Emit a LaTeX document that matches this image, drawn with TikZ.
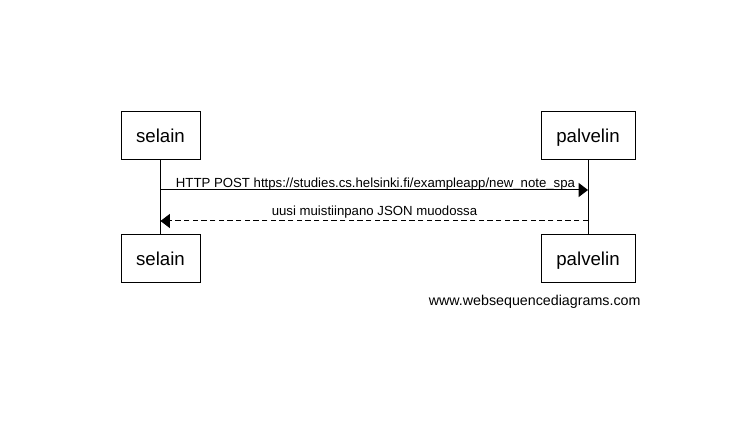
\documentclass[tikz,border=0pt]{standalone}
\usepackage{fontspec}
\setmainfont{Liberation Sans}
\usetikzlibrary{arrows.meta}
\begin{document}
\begin{tikzpicture}[x=0.75pt, y=-0.75pt, line width=0.75pt,
	actor/.style={draw, minimum height=48*0.75pt, inner sep=0pt, text height=10.2pt, text depth=0pt, font=\fontsize{14}{16}\selectfont},
	msg/.style={font=\fontsize{9.9}{12}\selectfont, inner sep=0pt, anchor=base},
	reply/.style={dash pattern=on 4pt off 2.5pt}]
\useasboundingbox (0,0) rectangle (744,434);
% osapuolet
\node[actor, minimum width=79*0.75pt] (selainA) at (160.5,136) {selain};
\node[actor, minimum width=94*0.75pt] (palvelinA) at (588,136) {palvelin};
\node[actor, minimum width=79*0.75pt] (selainB) at (160.5,259) {selain};
\node[actor, minimum width=94*0.75pt] (palvelinB) at (588,259) {palvelin};
\draw (selainA) -- (selainB);
\draw (palvelinA) -- (palvelinB);
% viestit
\coordinate (s1) at (selainA.south |- 0,190);
\coordinate (p1) at (palvelinA.south |- 0,190);
\coordinate (s2) at (selainA.south |- 0,221);
\coordinate (p2) at (palvelinA.south |- 0,221);
\draw[-{Triangle[length=7pt, width=10.5pt]}] (s1) -- (p1);
\draw[reply, -{Triangle[length=7pt, width=10.5pt]}] (p2) -- (s2);
\node[msg] (post) at (375.5,187.5) {HTTP POST https://studies.cs.helsinki.fi/exampleapp/new\_note\_spa};
\node[msg] (vastaus) at (374.5,216) {uusi muistiinpano JSON muodossa};
\node[font=\fontsize{10.7}{12}\selectfont, inner sep=0pt, anchor=base east] (wsd) at (641,306) {www.websequencediagrams.com};
\end{tikzpicture}
\end{document}
